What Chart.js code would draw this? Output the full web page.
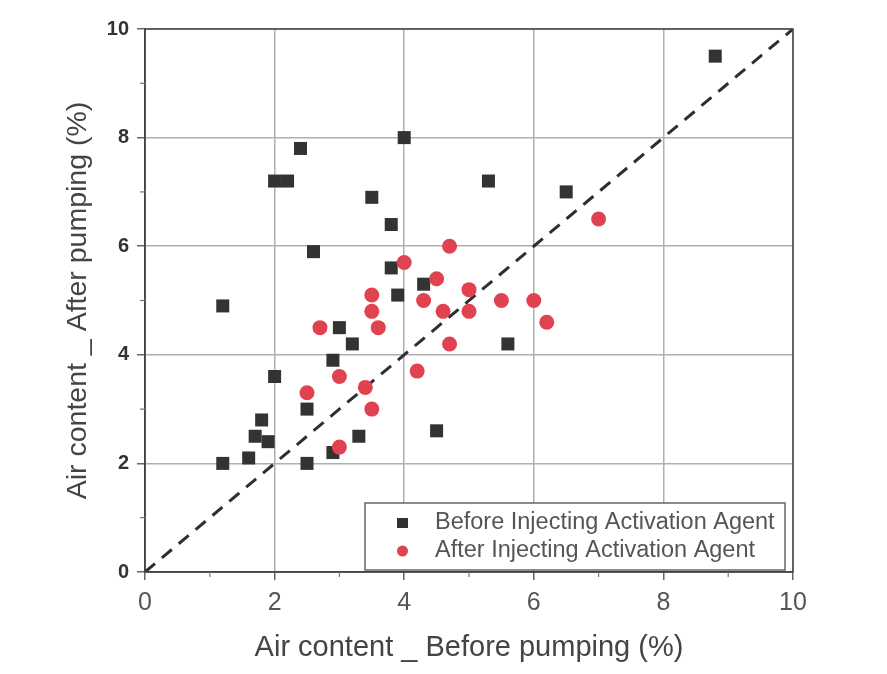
<!DOCTYPE html>
<html>
<head>
<meta charset="utf-8">
<script src="https://cdn.jsdelivr.net/npm/chart.js@4"></script>
<style>
html,body{margin:0;padding:0;background:#fff;}
#wrap{width:887px;height:674px;position:relative;}
</style>
</head>
<body>
<div id="wrap"><canvas id="c" width="887" height="674"></canvas></div>
<script>
// ---- data ----
const beforeX = [1.2, 1.2, 1.6, 1.7, 1.8, 1.9, 2.0, 2.0, 2.2, 2.4, 2.6, 2.5, 2.5, 2.9, 2.9, 3.0, 3.2, 3.3, 3.5, 3.8, 3.8, 3.9, 4.0, 4.3, 4.5, 5.3, 5.6, 6.5, 8.8];
const beforeY = [4.9, 2.0, 2.1, 2.5, 2.8, 2.4, 3.6, 7.2, 7.2, 7.8, 5.9, 3.0, 2.0, 3.9, 2.2, 4.5, 4.2, 2.5, 6.9, 6.4, 5.6, 5.1, 8.0, 5.3, 2.6, 7.2, 4.2, 7.0, 9.5];
const afterX = [2.5, 2.7, 3.0, 3.0, 3.4, 3.5, 3.5, 3.5, 3.6, 4.0, 4.2, 4.3, 4.5, 4.6, 4.7, 4.7, 5.0, 5.0, 5.5, 6.0, 6.2, 7.0];
const afterY = [3.3, 4.5, 3.6, 2.3, 3.4, 5.1, 4.8, 3.0, 4.5, 5.7, 3.7, 5.0, 5.4, 4.8, 6.0, 4.2, 5.2, 4.8, 5.0, 5.0, 4.6, 6.5];
const lineX = [0, 10];
const lineY = [0, 10];
const seriesLabels = ['Before Injecting Activation Agent', 'After Injecting Activation Agent'];
const xTitle = 'Air content _ Before pumping (%)';
const yTitle = 'Air content _ After pumping (%)';
const axisMin = 0, axisMax = 10, majorStep = 2;

const toPts = (xs, ys) => xs.map((x, i) => ({x: x, y: ys[i]}));

const BLACK = '#333333';
const RED = '#e0434f';
const FONT = "'Liberation Sans', Arial, sans-serif";

const framePlugin = {
  id: 'frame',
  afterDraw(chart) {
    const {ctx, chartArea: a, scales} = chart;
    ctx.save();
    // frame
    ctx.strokeStyle = '#444';
    ctx.lineWidth = 1.5;
    ctx.strokeRect(a.left, a.top, a.right - a.left, a.bottom - a.top);
    // minor ticks
    ctx.strokeStyle = '#777';
    ctx.lineWidth = 1.2;
    for (let v = axisMin + 1; v < axisMax; v += majorStep) {
      const px = scales.x.getPixelForValue(v);
      ctx.beginPath(); ctx.moveTo(px, a.bottom); ctx.lineTo(px, a.bottom + 5); ctx.stroke();
      const py = scales.y.getPixelForValue(v);
      ctx.beginPath(); ctx.moveTo(a.left, py); ctx.lineTo(a.left - 5, py); ctx.stroke();
    }
    // legend box
    const bx = a.left + 220, by = a.bottom - 69, bw = 420, bh = 67;
    ctx.fillStyle = '#fff';
    ctx.fillRect(bx, by, bw, bh);
    ctx.strokeStyle = '#666';
    ctx.lineWidth = 1.5;
    ctx.strokeRect(bx, by, bw, bh);
    ctx.font = '23.5px ' + FONT;
    ctx.textBaseline = 'middle';
    const r1 = by + 20, r2 = by + 48;
    ctx.fillStyle = BLACK;
    ctx.fillRect(bx + 32, r1 - 5, 11, 10);
    ctx.fillStyle = RED;
    ctx.beginPath(); ctx.arc(bx + 37.5, r2, 5.5, 0, Math.PI * 2); ctx.fill();
    ctx.fillStyle = '#555';
    ctx.fillText(seriesLabels[0], bx + 70, r1);
    ctx.fillText(seriesLabels[1], bx + 70, r2);
    ctx.restore();
  }
};

new Chart(document.getElementById('c'), {
  type: 'scatter',
  data: {
    datasets: [
      {
        label: seriesLabels[0],
        data: toPts(beforeX, beforeY),
        pointStyle: 'rect',
        pointRadius: 9.2,
        backgroundColor: BLACK,
        borderColor: BLACK,
        borderWidth: 0,
        order: 2
      },
      {
        label: seriesLabels[1],
        data: toPts(afterX, afterY),
        pointStyle: 'circle',
        pointRadius: 7.5,
        backgroundColor: RED,
        borderColor: RED,
        borderWidth: 0,
        order: 1
      },
      {
        type: 'line',
        label: 'y = x',
        data: toPts(lineX, lineY),
        borderColor: '#2e2e2e',
        borderWidth: 3,
        borderDash: [13, 9],
        pointRadius: 0,
        fill: false,
        order: 3
      }
    ]
  },
  options: {
    responsive: false,
    animation: false,
    events: [],
    layout: {padding: {left: 0, top: 29, right: 94, bottom: 0}},
    plugins: {legend: {display: false}, tooltip: {enabled: false}},
    scales: {
      x: {
        type: 'linear',
        min: axisMin, max: axisMax,
        ticks: {stepSize: majorStep, color: '#555', font: {family: FONT, size: 25}, padding: 8},
        grid: {color: '#b0b0b0', lineWidth: 1.5, tickLength: 8, tickColor: '#666'},
        border: {color: '#444', width: 1.5},
        title: {display: true, text: xTitle, color: '#444', font: {family: FONT, size: 29}, padding: {top: 0, bottom: 9}},
        afterFit(s) { s.height = 102; }
      },
      y: {
        type: 'linear',
        min: axisMin, max: axisMax,
        ticks: {stepSize: majorStep, color: '#333', font: {family: FONT, size: 20, weight: 'bold'}, padding: 8},
        grid: {color: '#b0b0b0', lineWidth: 1.5, tickLength: 8, tickColor: '#666'},
        border: {color: '#444', width: 1.5},
        title: {display: true, text: yTitle, color: '#444', font: {family: FONT, size: 28.5}, padding: {top: 61, bottom: 0}},
        afterFit(s) { s.width = 145; }
      }
    }
  },
  plugins: [framePlugin]
});
</script>
</body>
</html>
